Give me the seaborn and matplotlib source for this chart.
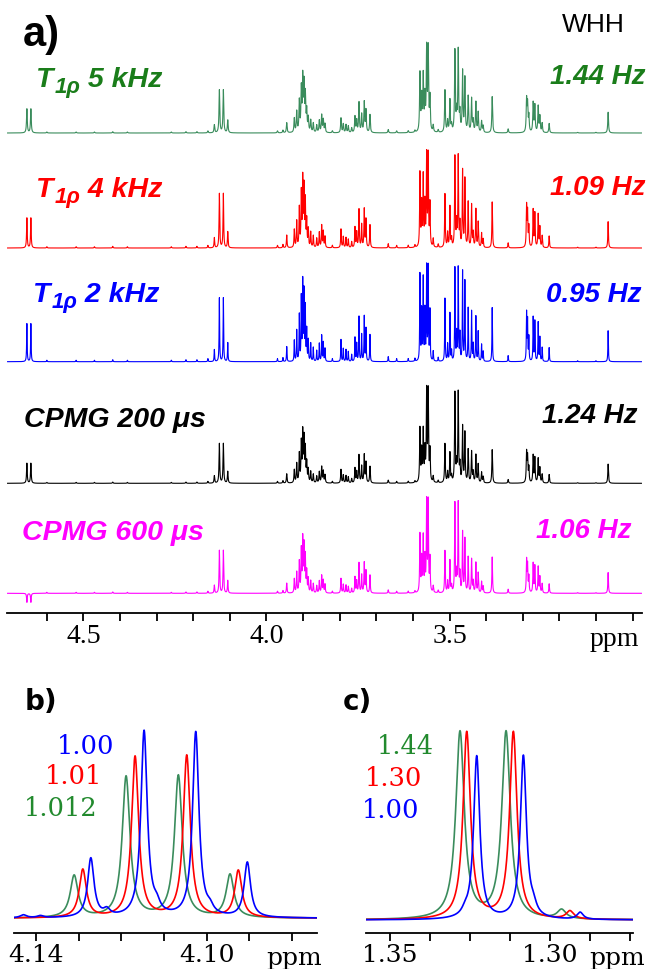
import numpy as np
import pandas as pd
import matplotlib
matplotlib.use("Agg")
import matplotlib.pyplot as plt
import seaborn as sns

# ---------------- panel a: peak list (ppm, height in px)
peak_ppm = [4.600, 4.520, 4.470, 4.420, 4.380, 4.260, 4.220, 4.190, 4.160,
            4.1424, 4.1287, 4.1178, 4.1058, 3.970, 3.955,
            3.9447, 3.9240, 3.9174, 3.9103, 3.9049, 3.9010, 3.8975, 3.8939, 3.8901,
            3.8858, 3.8792, 3.8721, 3.8628, 3.8557, 3.8492, 3.8448, 3.8401, 3.8200,
            3.7965, 3.7902, 3.7828, 3.7765, 3.7673, 3.7583, 3.7536, 3.7473, 3.7400,
            3.7329, 3.7282, 3.7173, 3.6674, 3.6444, 3.6128, 3.5945,
            3.5808, 3.5762, 3.5718, 3.5672, 3.5625, 3.5582, 3.5535, 3.5445, 3.5309,
            3.5125, 3.5052, 3.4989, 3.4943, 3.4853, 3.4806, 3.4762, 3.4716, 3.4643,
            3.4580, 3.4490, 3.4397, 3.4353, 3.4280, 3.4217, 3.4124, 3.4080,
            3.3834, 3.3398, 3.2895, 3.2868, 3.2833, 3.2715, 3.2669, 3.2578, 3.2532,
            3.2469, 3.2278, 3.150, 3.100, 3.0667]
peak_height = [1.5, 1.5, 1.5, 2, 1.5, 1.5, 2, 2, 3,
               12, 64, 64, 19, 3, 4,
               15, 21, 31, 46, 63, 78, 68, 53, 31,
               21, 18, 14, 11, 18, 26, 19, 13, 3,
               22, 13, 12, 10, 7, 24, 18, 45, 27,
               45, 33, 27, 5, 3, 3, 3,
               87, 50, 82, 50, 93, 93, 50, 10, 4,
               63, 17, 48, 10, 93, 27, 93, 27, 90,
               80, 53, 50, 17, 45, 30, 17, 10,
               54, 6, 48, 40, 24, 44, 40, 39, 24,
               14, 14, 1, 1, 31]
# lines that keep their height in every experiment
slow_ppm = [3.5625, 3.5582, 3.4853, 3.4762]
doublet_ppm = [4.6545, 4.6436]

trace_main = ["T", "T", "T", "CPMG 200 μs", "CPMG 600 μs"]
trace_sub = ["1ρ", "1ρ", "1ρ", "", ""]
trace_rest = [" 5 kHz", " 4 kHz", " 2 kHz", "", ""]
whh_labels = ["1.44 Hz", "1.09 Hz", "0.95 Hz", "1.24 Hz", "1.06 Hz"]
trace_scale = [0.67, 0.85, 1.00, 0.62, 0.67]
slow_scale = [0.87, 0.97, 1.00, 0.96, 0.96]
trace_hwhm = [0.0012, 0.0010, 0.0008, 0.0011, 0.0010]
doublet_height = [24, 30, 38, 20, -9]

# ---------------- panel b: quartet near 4.11 ppm
b_green_ppm = [4.13109, 4.11891, 4.10665, 4.09453]
b_green_h = [42, 141, 142, 43]
b_red_ppm = [4.12906, 4.11680, 4.10468, 4.09259]
b_red_h = [48, 161, 162, 47]
b_blue_ppm = [4.1430, 4.1390, 4.12718, 4.12343, 4.11469, 4.11171, 4.10257, 4.09922, 4.09047]
b_blue_h = [3, 2, 59, 6, 186, 8, 185, 6, 55]
b_labels = ["1.00", "1.01", "1.012"]

# ---------------- panel c: doublet near 1.32 ppm
c_green_ppm = [1.32813, 1.31375, 1.2964]
c_green_h = [187, 187, 9]
c_red_ppm = [1.32603, 1.31147, 1.2938]
c_red_h = [187, 187, 8]
c_blue_ppm = [1.3266, 1.32291, 1.30834, 1.3052, 1.2906]
c_blue_h = [4, 163, 163, 8, 7]
c_labels = ["1.44", "1.30", "1.00"]

# ---------------- styling / layout
W, H = 650, 969
trace_colors = ["#3a8c5c", "#ff0000", "#0000ff", "#000000", "#ff00ff"]
label_colors = ["#1a7d1a", "#ff0000", "#0000ff", "#000000", "#ff00ff"]
baseline_px = [480, 365, 251.3, 129.7, 19.7]
GREEN, RED, BLUE = "#3a8c5c", "#ff0000", "#0000ff"
NUM_GREEN = "#228a2e"

sns.set_theme(style="white")
plt.rcParams["text.color"] = "black"
plt.rcParams["xtick.color"] = "black"
plt.rcParams["axes.edgecolor"] = "black"


def lorentz(x, centers, heights, hwhm):
    c = np.asarray(centers)[:, None]
    h = np.asarray(heights, dtype=float)[:, None]
    return (h * hwhm ** 2 / ((x[None, :] - c) ** 2 + hwhm ** 2)).sum(axis=0)


def px_axes(x0, x1, y_top, y_bot):
    return fig.add_axes([x0 / W, 1 - y_bot / H, (x1 - x0) / W, (y_bot - y_top) / H])


def ftext(x, y, s, **kw):
    return fig.text(x / W, 1 - y / H, s, **kw)


def style_axis(ax, major, labels, minor, font, size):
    sns.despine(ax=ax, left=True)
    ax.set_yticks([])
    ax.set_xticks(major, labels)
    ax.set_xticks(minor, minor=True)
    ax.tick_params(axis="x", which="both", direction="out", length=6, width=1.3,
                   color="black", labelcolor="black", pad=2, bottom=True)
    for t in ax.get_xticklabels():
        t.set_fontfamily(font)
        t.set_fontsize(size)
    ax.spines["bottom"].set_linewidth(1.3)
    ax.set_xlabel("")
    ax.set_ylabel("")


fig = plt.figure(figsize=(W / 100, H / 100), dpi=100)
renderer = fig.canvas.get_renderer()

# ---- panel a
ax = px_axes(7.3, 641.7, 5, 613)
x = np.linspace(4.708, 2.975, 14000)
is_slow = np.isin(peak_ppm, slow_ppm)
frames = []
for i, name in enumerate(whh_labels):
    h = np.where(is_slow, slow_scale[i], trace_scale[i]) * np.asarray(peak_height, float)
    y = lorentz(x, peak_ppm, h, trace_hwhm[i])
    y += lorentz(x, doublet_ppm, [doublet_height[i]] * 2, trace_hwhm[i])
    frames.append(pd.DataFrame({"ppm": x, "y": y + baseline_px[i], "trace": name}))
df_a = pd.concat(frames, ignore_index=True)
sns.lineplot(data=df_a, x="ppm", y="y", hue="trace", units="trace", estimator=None,
             sort=False, palette=dict(zip(whh_labels, trace_colors)), lw=0.8,
             legend=False, ax=ax)
ax.set_xlim(4.708, 2.975)
ax.set_ylim(0, 608)
style_axis(ax, [4.5, 4.0, 3.5], ["4.5", "4.0", "3.5"],
           [4.6, 4.4, 4.3, 4.2, 4.1, 3.9, 3.8, 3.7, 3.6, 3.4, 3.3, 3.2, 3.1, 3.0],
           "Liberation Serif", 20)
ftext(614, 646, "ppm", ha="center", va="baseline", fontsize=20, family="Liberation Serif")

lab_kw = dict(va="baseline", family="Liberation Sans", weight="bold", style="italic")
left_x = [36, 36, 33, 24, 22]
left_base = [87, 197, 301.7, 426.7, 540]
right_x = [646, 646, 642, 638, 632]
right_base = [84, 195, 301.7, 423, 538]
for i in range(5):
    col = label_colors[i]
    t = ftext(left_x[i], left_base[i], trace_main[i], ha="left", fontsize=20.5,
              color=col, **lab_kw)
    if trace_sub[i]:
        w1 = t.get_window_extent(renderer).width
        s = ftext(left_x[i] + w1 + 1, left_base[i] + 6, trace_sub[i], ha="left",
                  fontsize=16, color=col, **lab_kw)
        w2 = s.get_window_extent(renderer).width
        ftext(left_x[i] + w1 + w2 + 1, left_base[i], trace_rest[i], ha="left",
              fontsize=20.5, color=col, **lab_kw)
    ftext(right_x[i], right_base[i], whh_labels[i], ha="right", fontsize=20,
          color=col, **lab_kw)
ftext(593, 32, "WHH", ha="center", va="baseline", fontsize=19, family="Liberation Sans")
ftext(23, 46, "a)", ha="left", va="baseline", fontsize=30, family="Liberation Sans",
      weight="bold")

# ---- panel b
axb = px_axes(14, 316.7, 690, 933.3)
xb = np.linspace(4.1452, 4.0742, 4000)
df_b = pd.concat([
    pd.DataFrame({"ppm": xb, "y": 15 + lorentz(xb, b_green_ppm, b_green_h, 0.0011), "s": "g"}),
    pd.DataFrame({"ppm": xb, "y": 15 + lorentz(xb, b_red_ppm, b_red_h, 0.0010), "s": "r"}),
    pd.DataFrame({"ppm": xb, "y": 15 + lorentz(xb, b_blue_ppm, b_blue_h, 0.0009), "s": "b"}),
], ignore_index=True)
sns.lineplot(data=df_b, x="ppm", y="y", hue="s", units="s", estimator=None, sort=False,
             palette={"g": GREEN, "r": RED, "b": BLUE}, lw=1.2, legend=False, ax=axb)
axb.set_xlim(4.1452, 4.0742)
axb.set_ylim(0, 243.3)
style_axis(axb, [4.14, 4.10], ["4.14", "4.10"], [4.13, 4.12, 4.11, 4.09, 4.08],
           "DejaVu Serif", 18)
ftext(294, 965, "ppm", ha="center", va="baseline", fontsize=18, family="DejaVu Serif")
ftext(25, 710, "b)", ha="left", va="baseline", fontsize=20, family="DejaVu Sans",
      weight="bold")
for lab, xx, yy, col in zip(b_labels, [57, 45, 24], [746, 777, 809], [BLUE, RED, NUM_GREEN]):
    ftext(xx, yy, lab, ha="left", va="center", fontsize=18.5, family="DejaVu Serif",
          color=col)

# ---- panel c
axc = px_axes(366, 633.3, 690, 933.3)
xc = np.linspace(1.3575, 1.2740, 4000)
df_c = pd.concat([
    pd.DataFrame({"ppm": xc, "y": 13.3 + lorentz(xc, c_green_ppm, c_green_h, 0.0016), "s": "g"}),
    pd.DataFrame({"ppm": xc, "y": 13.3 + lorentz(xc, c_red_ppm, c_red_h, 0.0014), "s": "r"}),
    pd.DataFrame({"ppm": xc, "y": 13.3 + lorentz(xc, c_blue_ppm, c_blue_h, 0.00115), "s": "b"}),
], ignore_index=True)
sns.lineplot(data=df_c, x="ppm", y="y", hue="s", units="s", estimator=None, sort=False,
             palette={"g": GREEN, "r": RED, "b": BLUE}, lw=1.2, legend=False, ax=axc)
axc.set_xlim(1.3575, 1.2740)
axc.set_ylim(0, 243.3)
style_axis(axc, [1.35, 1.30], ["1.35", "1.30"], [1.3375, 1.325, 1.3125, 1.2875, 1.275],
           "DejaVu Serif", 18)
ftext(617, 965, "ppm", ha="center", va="baseline", fontsize=18, family="DejaVu Serif")
ftext(343, 710, "c)", ha="left", va="baseline", fontsize=20, family="DejaVu Sans",
      weight="bold")
for lab, xx, yy, col in zip(c_labels, [377, 365, 362], [747, 779, 810], [NUM_GREEN, RED, BLUE]):
    ftext(xx, yy, lab, ha="left", va="center", fontsize=18.5, family="DejaVu Serif",
          color=col)

fig.savefig("out.png", dpi=100)
